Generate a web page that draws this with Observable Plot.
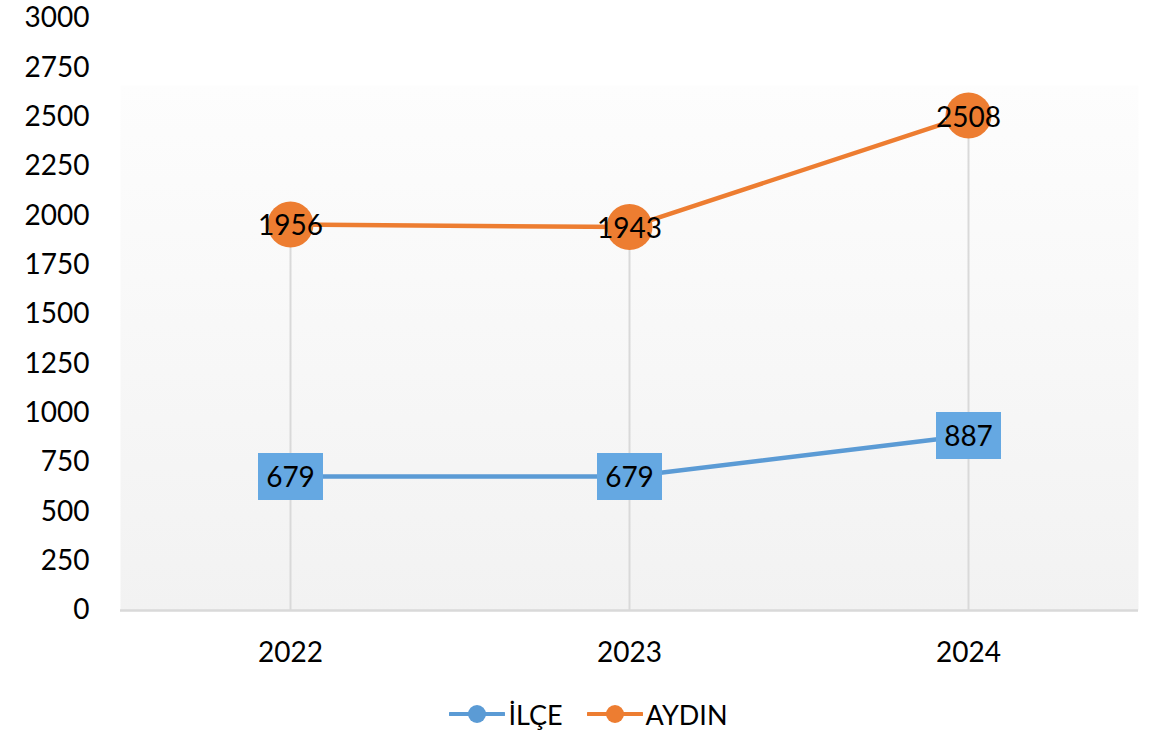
<!DOCTYPE html>
<html><head><meta charset="utf-8">
<script src="https://cdn.jsdelivr.net/npm/d3@7"></script>
<script src="https://cdn.jsdelivr.net/npm/@observablehq/plot@0.6"></script>
<style>
body{margin:0;background:#fff;font-family:Lato,"Open Sans",sans-serif;}
#legend{display:flex;justify-content:center;align-items:center;height:48px;font-size:27px;color:#000;padding-left:24px;}
.item{display:flex;align-items:center;margin:0 12px;}
.item svg{margin-right:3px;}
</style></head><body>
<div id="chart"></div>
<div id="legend"></div>
<script>
const years = ["2022", "2023", "2024"];
const ilce = [679, 679, 887];
const aydin = [1956, 1943, 2508];
const yTicks = [0, 250, 500, 750, 1000, 1250, 1500, 1750, 2000, 2250, 2500, 2750, 3000];
const seriesNames = ["İLÇE", "AYDIN"];
const seriesColors = ["#5b9bd5", "#ed7d31"];
const labelFill = "#65a8e2";

const ilceData = years.map((y, i) => ({year: y, value: ilce[i]}));
const aydinData = years.map((y, i) => ({year: y, value: aydin[i]}));
const dropData = years.map((y, i) => ({year: y, top: Math.max(ilce[i], aydin[i])}));

const boxSymbol = {draw(ctx, size) { ctx.rect(-32.5, -23.5, 65, 47); }};

const chart = Plot.plot({
  width: 1153,
  height: 690,
  marginLeft: 120,
  marginRight: 15,
  marginTop: 18,
  marginBottom: 80,
  style: {fontFamily: "Lato, 'Open Sans', sans-serif", fontSize: "28px", color: "#000", background: "#fff"},
  x: {type: "point", domain: years, padding: 0.5, label: null},
  y: {domain: [0, 3000], label: null},
  marks: [
    () => {
      const ns = "http://www.w3.org/2000/svg";
      const defs = document.createElementNS(ns, "defs");
      defs.innerHTML = '<linearGradient id="bg" x1="0" y1="0" x2="0" y2="1"><stop offset="0" stop-color="#fdfdfd"/><stop offset="1" stop-color="#f2f2f2"/></linearGradient>';
      return defs;
    },
    Plot.frame({fill: "url(#bg)", stroke: "none", insetTop: 67}),
    Plot.ruleX(dropData, {x: "year", y1: 0, y2: "top", stroke: "#d9d9d9", strokeWidth: 2}),
    Plot.ruleY([0], {stroke: "#d9d9d9", strokeWidth: 2.5}),
    Plot.axisY({ticks: yTicks, tickSize: 0, tickPadding: 31, tickFormat: d => String(d), fontSize: 28}),
    Plot.axisX({tickSize: 0, tickPadding: 32, fontSize: 28}),
    Plot.line(aydinData, {x: "year", y: "value", stroke: seriesColors[1], strokeWidth: 4.5}),
    Plot.line(ilceData, {x: "year", y: "value", stroke: seriesColors[0], strokeWidth: 4.5}),
    Plot.dot(aydinData, {x: "year", y: "value", r: 23, fill: seriesColors[1], stroke: "none"}),
    Plot.dot(ilceData, {x: "year", y: "value", symbol: boxSymbol, r: 10, fill: labelFill, stroke: "none"}),
    Plot.text(aydinData, {x: "year", y: "value", text: d => String(d.value), fontSize: 28, fill: "#000", dy: 2}),
    Plot.text(ilceData, {x: "year", y: "value", text: d => String(d.value), fontSize: 28, fill: "#000", dy: 2})
  ]
});
document.getElementById("chart").appendChild(chart);

const legend = document.getElementById("legend");
seriesNames.forEach((name, i) => {
  const item = document.createElement("div");
  item.className = "item";
  item.innerHTML = `<svg width="56" height="22"><line x1="1" y1="11" x2="55" y2="11" stroke="${seriesColors[i]}" stroke-width="4" stroke-linecap="round"/><circle cx="28" cy="11" r="9" fill="${seriesColors[i]}"/></svg><span>${name}</span>`;
  legend.appendChild(item);
});
</script>
</body></html>
